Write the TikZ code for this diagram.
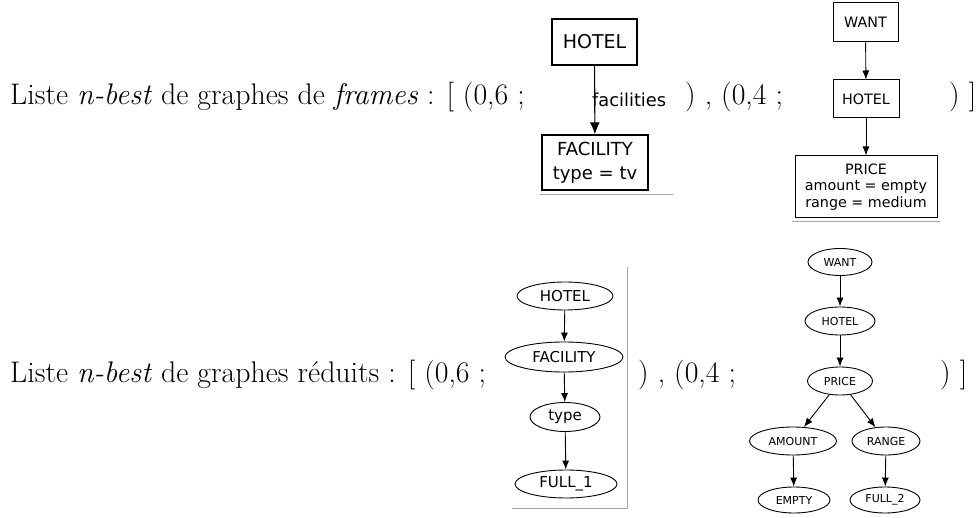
\documentclass[tikz,border=0pt]{standalone}
\usepackage{fontspec}
\newfontfamily\gv{DejaVu Sans}
\usetikzlibrary{shapes.geometric,arrows.meta}
\tikzset{
  main/.style={anchor=base west, inner sep=0pt, font=\fontsize{29.8}{36}\selectfont},
  fbox/.style={draw, line width=1.3pt, inner sep=0pt, align=center},
  fboxs/.style={fbox, line width=1pt},
  ell/.style={draw, ellipse, line width=0.9pt, inner sep=0pt},
  arr/.style={draw, line width=1.1pt, -{Latex[length=12pt,width=10pt]}},
  arrs/.style={draw, line width=0.9pt, -{Latex[length=9pt,width=7pt]}},
  frame/.style={draw, gray!70, line width=1pt}
}
\begin{document}
\begin{tikzpicture}[x=1pt,y=-1pt]
\useasboundingbox (0,0) rectangle (980,518);
% text line 1
\node[main] (l1a) at (10,105) {Liste \textit{n-best} de graphes de \textit{frames} : [ (0,6 ;};
\node[main] (l1b) at (685,105) {) , (0,4 ;};
\node[main] (l1c) at (949,105) {) ]};
% text line 2
\node[main] (l2a) at (10,383) {Liste \textit{n-best} de graphes réduits : [ (0,6 ;};
\node[main] (l2b) at (638,383) {) , (0,4 ;};
\node[main] (l2c) at (940,383) {) ]};

% top-left frame graph
\node[fbox, minimum width=85pt, minimum height=46pt, font=\gv\fontsize{19}{24}\selectfont] (h1) at (594.5,42) {HOTEL};
\node[fbox, minimum width=106pt, minimum height=55pt, font=\gv\fontsize{18}{24}\selectfont] (f1) at (595,162.5) {FACILITY\\type = tv};
\draw[arr] (h1) -- (f1);
\node[anchor=west, inner sep=0pt, font=\gv\fontsize{17.8}{22}\selectfont] (fl) at (592,100) {facilities};
\coordinate (g1a) at (540,195);
\coordinate (g1b) at (673,195);
\draw[frame] (g1a) -- (g1b);

% top-right frame graph
\node[fboxs, minimum width=65pt, minimum height=39pt, font=\gv\fontsize{14.3}{17}\selectfont] (w2) at (865.5,22.5) {WANT};
\node[fboxs, minimum width=66pt, minimum height=38pt, font=\gv\fontsize{14.3}{17}\selectfont] (h2) at (866,99) {HOTEL};
\node[fboxs, minimum width=142pt, minimum height=62pt, font=\gv\fontsize{14.3}{16.5}\selectfont] (p2) at (866,187) {PRICE\\amount = empty\\range = medium};
\draw[arrs] (w2) -- (h2);
\draw[arrs] (h2) -- (p2);
\coordinate (g2a) at (792,222);
\coordinate (g2b) at (940,222);
\draw[frame] (g2a) -- (g2b);

% bottom-left reduced graph
\begin{scope}[font=\gv\fontsize{15}{18}\selectfont]
\node[ell, minimum width=96pt, minimum height=28pt] (h3) at (565,296) {HOTEL};
\node[ell, minimum width=118pt, minimum height=30pt] (f3) at (564,357) {FACILITY};
\node[ell, minimum width=70pt, minimum height=29pt] (t3) at (565,417) {type};
\node[ell, minimum width=102pt, minimum height=28pt] (u3) at (566,484) {FULL\_1};
\end{scope}
\draw[arrs] (h3) -- (f3);
\draw[arrs] (f3) -- (t3);
\draw[arrs] (t3) -- (u3);
\coordinate (g3a) at (627,267);
\coordinate (g3b) at (627,508);
\coordinate (g3c) at (512,508);
\draw[frame] (g3a) -- (g3b) -- (g3c);

% bottom-right reduced graph
\begin{scope}[font=\gv\fontsize{11}{13}\selectfont]
\node[ell, minimum width=64pt, minimum height=27pt] (w4) at (840,262) {WANT};
\node[ell, minimum width=70pt, minimum height=28pt] (h4) at (840,321) {HOTEL};
\node[ell, minimum width=65pt, minimum height=28pt] (p4) at (840,381) {PRICE};
\node[ell, minimum width=87pt, minimum height=28pt] (a4) at (793,441) {AMOUNT};
\node[ell, minimum width=68pt, minimum height=28pt] (r4) at (886,441) {RANGE};
\node[ell, minimum width=72pt, minimum height=26pt] (e4) at (794,500) {EMPTY};
\node[ell, minimum width=70pt, minimum height=26pt] (u4) at (885,500) {FULL\_2};
\end{scope}
\draw[arrs] (w4) -- (h4);
\draw[arrs] (h4) -- (p4);
\draw[arrs] (p4) -- (a4);
\draw[arrs] (p4) -- (r4);
\draw[arrs] (a4) -- (e4);
\draw[arrs] (r4) -- (u4);
\end{tikzpicture}
\end{document}
